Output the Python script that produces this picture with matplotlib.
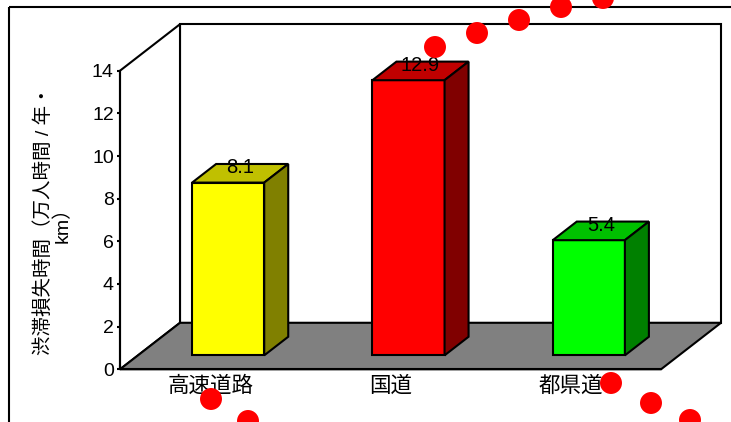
import numpy as np
import matplotlib.pyplot as plt
from matplotlib.patches import Polygon, Rectangle

plt.rcParams['font.family'] = ['Liberation Sans', 'Noto Sans CJK JP', 'DejaVu Sans']
plt.rcParams['axes.unicode_minus'] = False

# 数据
categories = ['高速道路', '国道', '都県道']
values = [8.1, 12.9, 5.4]
front_colors = ['#FFFF00', '#FF0000', '#00FF00']
top_colors = ['#C0C000', '#C00000', '#00C000']
side_colors = ['#808000', '#800000', '#008000']
y_label = '渋滞損失時間（万人時間 / 年・\nkm）'

# 装饰用红点（像素坐标）
dot_x = [435, 477, 519, 561, 603, 211, 248, 611, 651, 690]
dot_y = [47, 33, 20, 7, -2, 399, 421, 383, 403, 420]

W, H = 731, 422
fig = plt.figure(figsize=(W / 100, H / 100), dpi=100)

# 前平面位置
left, right, bottom, top = 120, 661, 369.3, 70.7
ax = fig.add_axes([left / W, 1 - bottom / H, (right - left) / W, (bottom - top) / H])
ax.set_xlim(0, 3)
ax.set_ylim(0, 14)

# 纵深偏移（数据单位）
DX = 60 / ((right - left) / 3)
DY = 46.5 / ((bottom - top) / 14)
lw = 1.5

# 背景墙、左侧墙、底面
ax.add_patch(Rectangle((DX, DY), 3, 14, facecolor='white', edgecolor='black',
                       lw=lw, clip_on=False, zorder=1))
ax.add_patch(Polygon([(0, 0), (0, 14), (DX, 14 + DY), (DX, DY)], closed=True,
                     facecolor='white', edgecolor='black', lw=lw, clip_on=False, zorder=1))
ax.add_patch(Polygon([(0, 0), (3, 0), (3 + DX, DY), (DX, DY)], closed=True,
                     facecolor='#808080', edgecolor='black', lw=lw, clip_on=False, zorder=2))

# 三维柱
bw = 0.4
d0, d1 = 0.3, 0.7
for i, v in enumerate(values):
    x0 = i + (1 - bw) / 2 + d0 * DX
    y0 = d0 * DY
    ddx, ddy = (d1 - d0) * DX, (d1 - d0) * DY
    ax.add_patch(Rectangle((x0, y0), bw, v, facecolor=front_colors[i],
                           edgecolor='black', lw=lw, clip_on=False, zorder=3))
    ax.add_patch(Polygon([(x0, y0 + v), (x0 + bw, y0 + v), (x0 + bw + ddx, y0 + v + ddy),
                          (x0 + ddx, y0 + v + ddy)], closed=True, facecolor=top_colors[i],
                         edgecolor='black', lw=lw, clip_on=False, zorder=3))
    ax.add_patch(Polygon([(x0 + bw, y0), (x0 + bw, y0 + v), (x0 + bw + ddx, y0 + v + ddy),
                          (x0 + bw + ddx, y0 + ddy)], closed=True, facecolor=side_colors[i],
                         edgecolor='black', lw=lw, clip_on=False, zorder=3))
    ax.text(x0 + bw / 2 + ddx / 2, y0 + v + ddy / 2, f'{v}', ha='center', va='baseline',
            fontsize=14.5, zorder=4)

# 坐标轴
for s in ['top', 'right']:
    ax.spines[s].set_visible(False)
for s in ['left', 'bottom']:
    ax.spines[s].set_linewidth(lw)
    ax.spines[s].set_zorder(5)
ax.patch.set_alpha(0)
ax.set_yticks(np.arange(0, 15, 2))
ax.tick_params(axis='y', direction='out', length=2.5, width=lw, pad=2, labelsize=14)
ax.set_xticks([0.5, 1.5, 2.5])
ax.set_xticklabels(categories, fontsize=15.5)
ax.set_xticks([0, 1, 2, 3], minor=True)
ax.tick_params(axis='x', which='major', length=0, pad=5)
ax.tick_params(axis='x', which='minor', direction='in', length=3, width=lw)

fig.text(53 / W, 1 - 220 / H, y_label, rotation=90, ha='center', va='center',
         multialignment='center', fontsize=14, linespacing=1.05)

# 外框和红点
deco = fig.add_axes([0, 0, 1, 1], zorder=10)
deco.set_xlim(0, W)
deco.set_ylim(H, 0)
deco.axis('off')
deco.add_patch(Rectangle((9, 7), W + 20, H + 20, facecolor='none', edgecolor='black',
                         lw=lw, clip_on=False))
deco.scatter(dot_x, dot_y, s=250, color='#FF0000', edgecolors='none', clip_on=False)

fig.savefig('out.png', dpi=100)
